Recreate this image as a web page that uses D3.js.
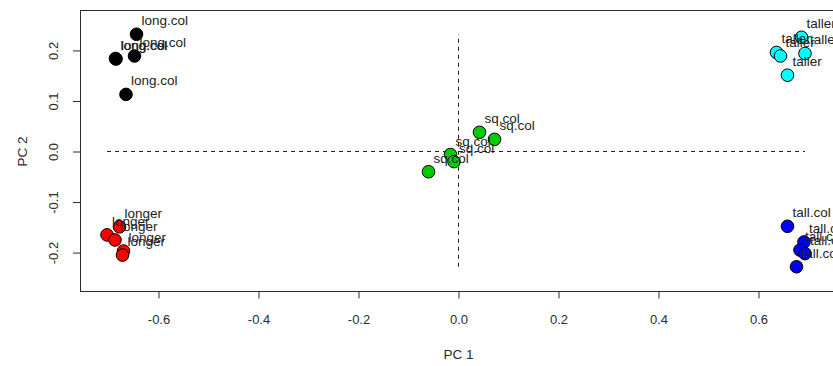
<!DOCTYPE html>
<html>
<head>
<meta charset="utf-8">
<script src="https://cdn.jsdelivr.net/npm/d3@7"></script>
<style>
  html, body { margin: 0; padding: 0; background: #fff; }
  svg { display: block; }
  text { font-family: "Liberation Sans", Arial, Helvetica, sans-serif; }
</style>
</head>
<body>
<svg id="chart" width="833" height="366"></svg>
<script>
// PCA scores, one array per shape group
const groupNames  = ["long.col", "longer", "sq.col", "tall.col", "taller"];
const groupColors = ["#000000", "#ff0000", "#00cd00", "#0000ff", "#00ffff"];

const pc1LongCol = [-0.644, -0.686, -0.685, -0.648, -0.665];
const pc2LongCol = [ 0.232,  0.184,  0.183,  0.189,  0.113];

const pc1Longer  = [-0.703, -0.687, -0.678, -0.670, -0.672];
const pc2Longer  = [-0.165, -0.175, -0.149, -0.197, -0.205];

const pc1SqCol   = [ 0.042,  0.072, -0.016, -0.009, -0.060];
const pc2SqCol   = [ 0.038,  0.024, -0.006, -0.020, -0.040];

const pc1TallCol = [ 0.658,  0.691,  0.683,  0.693,  0.676];
const pc2TallCol = [-0.148, -0.179, -0.195, -0.202, -0.228];

const pc1Taller  = [ 0.686,  0.636,  0.644,  0.693,  0.658];
const pc2Taller  = [ 0.226,  0.196,  0.189,  0.194,  0.151];

const xTicks = [-0.6, -0.4, -0.2, 0.0, 0.2, 0.4, 0.6];
const yTicks = [-0.2, -0.1, 0.0, 0.1, 0.2];

const pc1ByGroup = [pc1LongCol, pc1Longer, pc1SqCol, pc1TallCol, pc1Taller];
const pc2ByGroup = [pc2LongCol, pc2Longer, pc2SqCol, pc2TallCol, pc2Taller];

const points = [];
groupNames.forEach((g, gi) => {
  pc1ByGroup[gi].forEach((v, i) => {
    points.push({ group: g, color: groupColors[gi], pc1: v, pc2: pc2ByGroup[gi][i] });
  });
});

const svg = d3.select("#chart");
const plotLeft = 80, plotRight = 833.5, plotTop = 10, plotBottom = 291.5;

const x = d3.scaleLinear().domain([-0.757, 0.75]).range([plotLeft, plotRight]);
const y = d3.scaleLinear().domain([-0.277, 0.280]).range([plotBottom, plotTop]);

const fmt = v => (Math.abs(v) < 1e-9 ? 0 : v).toFixed(1);
const ink = "#2b2b2b";

// reference lines through the origin, spanning the data extent
const xExt = d3.extent(points, d => d.pc1);
const yExt = d3.extent(points, d => d.pc2);
svg.append("line")
  .attr("x1", x(xExt[0])).attr("x2", x(xExt[1]))
  .attr("y1", y(0)).attr("y2", y(0))
  .attr("stroke", "#222").attr("stroke-width", 1).attr("stroke-dasharray", "4,4");
svg.append("line")
  .attr("x1", x(0)).attr("x2", x(0))
  .attr("y1", y(yExt[0])).attr("y2", y(yExt[1]))
  .attr("stroke", "#222").attr("stroke-width", 1).attr("stroke-dasharray", "4,4");

// points
svg.append("g").selectAll("circle")
  .data(points)
  .join("circle")
  .attr("cx", d => x(d.pc1))
  .attr("cy", d => y(d.pc2))
  .attr("r", 6.3)
  .attr("fill", d => d.color)
  .attr("stroke", "#000")
  .attr("stroke-width", 1);

// point labels, up and to the right of each point
svg.append("g").selectAll("text")
  .data(points)
  .join("text")
  .attr("x", d => x(d.pc1) + 5)
  .attr("y", d => y(d.pc2) - 9)
  .attr("font-size", 13.5)
  .attr("fill", "#222")
  .text(d => d.group);

// plot frame
svg.append("rect")
  .attr("x", plotLeft + 0.5).attr("y", plotTop + 0.5)
  .attr("width", plotRight - plotLeft).attr("height", plotBottom - plotTop - 0.5)
  .attr("fill", "none").attr("stroke", ink).attr("stroke-width", 1);

// x axis
const gx = svg.append("g")
  .attr("transform", `translate(0,${plotBottom})`)
  .call(d3.axisBottom(x).tickValues(xTicks).tickFormat(fmt).tickSize(7).tickPadding(16));
gx.select(".domain").remove();
gx.selectAll(".tick line").attr("stroke", ink);
gx.selectAll(".tick text").attr("fill", ink).attr("font-size", 13)
  .style("font-family", "'Liberation Sans', Arial, sans-serif");

// y axis with rotated tick labels
const gy = svg.append("g")
  .attr("transform", `translate(${plotLeft},0)`)
  .call(d3.axisLeft(y).tickValues(yTicks).tickFormat(fmt).tickSize(7));
gy.select(".domain").remove();
gy.selectAll(".tick line").attr("stroke", ink);
gy.selectAll(".tick text")
  .attr("fill", ink).attr("font-size", 13)
  .style("font-family", "'Liberation Sans', Arial, sans-serif")
  .attr("text-anchor", "middle")
  .attr("dy", null)
  .attr("x", 0)
  .attr("y", -22)
  .attr("transform", "rotate(-90)");

// axis titles
svg.append("text")
  .attr("x", x(0)).attr("y", 359)
  .attr("text-anchor", "middle")
  .attr("font-size", 13.5).attr("fill", ink)
  .text("PC 1");
svg.append("text")
  .attr("transform", `translate(27,${y(0)}) rotate(-90)`)
  .attr("text-anchor", "middle")
  .attr("font-size", 13.5).attr("fill", ink)
  .text("PC 2");
</script>
</body>
</html>
